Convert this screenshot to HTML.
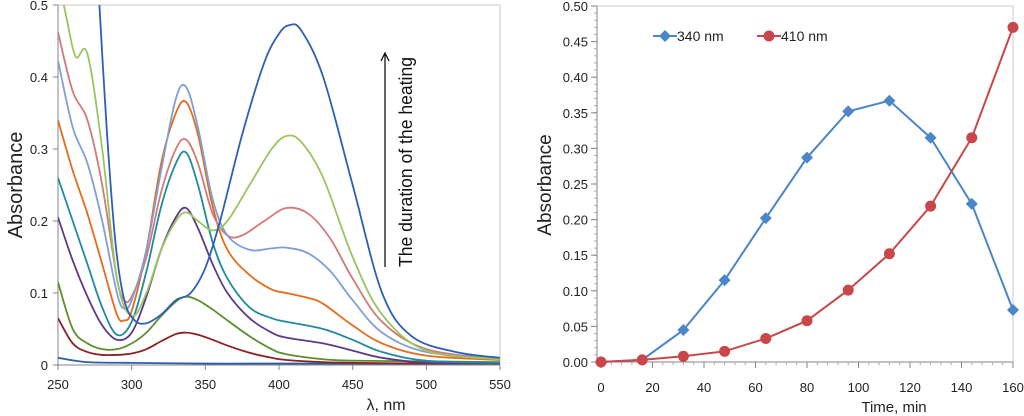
<!DOCTYPE html>
<html><head><meta charset="utf-8"><style>
body{margin:0;background:#fff;}
svg{display:block;font-family:"Liberation Sans",Arial,sans-serif;}
</style></head><body>
<svg id="c" width="1024" height="416" viewBox="0 0 1024 416">
<defs><clipPath id="lc"><rect x="58" y="5" width="442" height="360"/></clipPath></defs>
</svg>
<script>
// ---- Left chart data (spectra) ----
const specColors=["#2f5da8","#8b2323","#5b8f2e","#5b3a86","#1f8aa0","#e46c1a","#d27a78","#7f9fd8","#9bc45f","#2e5fb8"];
const specX=[
 [250,270,300,350,400,450,500,550],
 [250,260,270,280,290,300,310,320,330,337,345,355,365,380,395,405,430,450,500,550],
 [250,260,270,280,290,300,310,320,330,337,345,355,365,380,395,405,430,450,500,550],
 [250,260,270,280,290,300,310,320,330,337,345,355,365,380,395,405,430,450,470,500,550],
 [250,260,270,280,290,300,310,320,330,337,345,355,365,380,395,405,430,450,470,500,550],
 [250,260,270,280,290,295,300,310,320,330,337,345,355,365,380,395,405,420,430,450,470,500,550],
 [250,260,270,280,290,295,300,310,320,330,337,345,355,365,375,390,405,420,435,450,470,500,550],
 [250,260,270,280,290,295,300,310,320,330,337,345,355,365,380,395,405,420,435,450,470,500,550],
 [252,256,262,270,280,290,300,310,320,330,337,345,355,365,380,395,405,415,430,450,470,500,550],
 [277,283,289,295,302,310,320,330,340,350,360,375,390,400,407,415,430,450,470,490,520,550]
];
const specY=[
 [0.010,0.004,0.003,0.002,0.002,0.002,0.002,0.002],
 [0.065,0.030,0.018,0.014,0.014,0.016,0.022,0.033,0.043,0.045,0.042,0.035,0.027,0.017,0.010,0.007,0.004,0.003,0.002,0.002],
 [0.115,0.050,0.030,0.022,0.022,0.030,0.045,0.068,0.088,0.095,0.090,0.077,0.062,0.040,0.022,0.015,0.008,0.006,0.005,0.004],
 [0.205,0.145,0.095,0.055,0.035,0.045,0.095,0.160,0.205,0.218,0.190,0.140,0.100,0.065,0.045,0.038,0.030,0.020,0.010,0.003,0.002],
 [0.260,0.200,0.140,0.080,0.042,0.060,0.130,0.220,0.280,0.295,0.250,0.170,0.120,0.080,0.065,0.060,0.050,0.035,0.018,0.006,0.003],
 [0.340,0.270,0.210,0.140,0.070,0.062,0.075,0.160,0.280,0.350,0.365,0.320,0.220,0.160,0.125,0.105,0.100,0.093,0.085,0.055,0.030,0.013,0.007],
 [0.462,0.380,0.340,0.250,0.120,0.090,0.095,0.150,0.240,0.300,0.313,0.280,0.210,0.180,0.180,0.200,0.218,0.210,0.175,0.120,0.060,0.022,0.008],
 [0.423,0.330,0.280,0.200,0.100,0.078,0.090,0.160,0.270,0.370,0.386,0.330,0.230,0.180,0.160,0.162,0.163,0.155,0.130,0.090,0.045,0.018,0.008],
 [0.520,0.480,0.428,0.432,0.300,0.120,0.068,0.100,0.160,0.200,0.212,0.200,0.187,0.200,0.250,0.300,0.318,0.310,0.260,0.150,0.070,0.020,0.008],
 [0.540,0.330,0.170,0.090,0.062,0.058,0.070,0.090,0.100,0.135,0.200,0.320,0.420,0.460,0.472,0.465,0.400,0.250,0.100,0.040,0.018,0.010]
];
const leftXTicks=[250,300,350,400,450,500,550];
const leftYTicks=[0,0.1,0.2,0.3,0.4,0.5];
const leftYLabels=["0","0.1","0.2","0.3","0.4","0.5"];
// ---- Right chart data ----
const times=[0,16,32,48,64,80,96,112,128,144,160];
const abs340=[0,0.003,0.045,0.115,0.202,0.287,0.352,0.367,0.315,0.222,0.073];
const abs410=[0,0.003,0.008,0.015,0.033,0.058,0.101,0.152,0.219,0.315,0.470];
const rightXTicks=[0,20,40,60,80,100,120,140,160];
const rightYTicks=[0,0.05,0.1,0.15,0.2,0.25,0.3,0.35,0.4,0.45,0.5];

const NS="http://www.w3.org/2000/svg";
const svg=document.getElementById('c');
function el(tag,attrs,parent,text){const e=document.createElementNS(NS,tag);for(const k in attrs)e.setAttribute(k,attrs[k]);if(text!==undefined)e.textContent=text;(parent||svg).appendChild(e);return e;}

// Left axes
const lx=v=>58+(v-250)*(442/300);
const ly=v=>365-v*720;
const L=el('g',{});


const lb=el('rect',{x:58,y:5,width:442,height:360,fill:'none',stroke:'#c8c8c8','stroke-width':1},L);


el('line',{x1:58,y1:5,x2:58,y2:365,stroke:'#868686'},L);
el('line',{x1:58,y1:365,x2:500,y2:365,stroke:'#868686'},L);
leftYTicks.forEach((v,i)=>{
 el('line',{x1:53,y1:ly(v),x2:58,y2:ly(v),stroke:'#868686'},L);
 const t=el('text',{x:48,y:ly(v)+5,'text-anchor':'end','font-size':13,fill:'#222'},L,leftYLabels[i]);
 
 
});
leftXTicks.forEach(v=>{
 el('line',{x1:lx(v),y1:365,x2:lx(v),y2:370,stroke:'#868686'},L);
 const t=el('text',{x:lx(v),y:389,'text-anchor':'middle','font-size':13,fill:'#222'},L,String(v));
 
 
});
const lxt=el('text',{x:386,y:410,'text-anchor':'middle','font-size':16,fill:'#222'},L,'λ, nm');


const lyt=el('text',{x:0,y:0,transform:'translate(22,185) rotate(-90)','text-anchor':'middle','font-size':20,fill:'#222'},L,'Absorbance');



function smooth(pts){
 let d='M'+pts[0][0]+','+pts[0][1];
 for(let i=0;i<pts.length-1;i++){
  const p0=pts[i-1]||pts[i],p1=pts[i],p2=pts[i+1],p3=pts[i+2]||p2;
  const c1=[p1[0]+(p2[0]-p0[0])/6,p1[1]+(p2[1]-p0[1])/6];
  const c2=[p2[0]-(p3[0]-p1[0])/6,p2[1]-(p3[1]-p1[1])/6];
  d+=' C'+c1[0]+','+c1[1]+' '+c2[0]+','+c2[1]+' '+p2[0]+','+p2[1];
 }
 return d;
}
const G=el('g',{'clip-path':'url(#lc)'},L);
specX.forEach((xs,i)=>{
 const pts=xs.map((x,j)=>[lx(x),ly(specY[i][j])]);
 const p=el('path',{d:smooth(pts),fill:'none',stroke:specColors[i],'stroke-width':1.8},G);
 
 
});
// arrow annotation
const ar=el('g',{},L);


el('line',{x1:385,y1:267,x2:385,y2:55,stroke:'#000','stroke-width':1.2},ar);
el('path',{d:'M381,61 L385,53 L389,61',fill:'none',stroke:'#000','stroke-width':1.2},ar);
const at=el('text',{x:0,y:0,transform:'translate(412,267) rotate(-90)','font-size':18.5,fill:'#111',textLength:210,lengthAdjust:'spacingAndGlyphs'},L,'The duration of the heating');



// Right chart
const rx=v=>601+v*(412/160);
const ry=v=>362-v*712;
const R=el('g',{});


const rb=el('rect',{x:597,y:6,width:416,height:356,fill:'none',stroke:'#c8c8c8'},R);


el('line',{x1:597,y1:6,x2:597,y2:362,stroke:'#868686'},R);
el('line',{x1:597,y1:362,x2:1013,y2:362,stroke:'#868686'},R);
for(let v=0;v<=0.5001;v+=0.01){const y=ry(v);el('line',{x1:594,y1:y,x2:597,y2:y,stroke:'#aaa'},R);}
for(let v=0;v<=160;v+=4){el('line',{x1:rx(v),y1:362,x2:rx(v),y2:365,stroke:'#aaa'},R);}
rightYTicks.forEach(v=>{
 el('line',{x1:591,y1:ry(v),x2:597,y2:ry(v),stroke:'#868686'},R);
 const t=el('text',{x:588,y:ry(v)+5,'text-anchor':'end','font-size':13,fill:'#222'},R,v.toFixed(2));
 
 
});
rightXTicks.forEach(v=>{
 el('line',{x1:rx(v),y1:362,x2:rx(v),y2:368,stroke:'#868686'},R);
 const t=el('text',{x:rx(v),y:392,'text-anchor':'middle','font-size':13,fill:'#222'},R,String(v));
 
 
});
const rxt=el('text',{x:894,y:412,'text-anchor':'middle','font-size':15,fill:'#222'},R,'Time, min');


const ryt=el('text',{x:0,y:0,transform:'translate(551,185) rotate(-90)','text-anchor':'middle','font-size':19,fill:'#222'},R,'Absorbance');



const diamond=(x,y,c,g)=>el('path',{d:`M${x},${y-6} L${x+6},${y} L${x},${y+6} L${x-6},${y} Z`,fill:c},g);
const s1=el('g',{},R);


el('polyline',{points:times.map((t,i)=>rx(t)+','+ry(abs340[i])).join(' '),fill:'none',stroke:'#4a86c8','stroke-width':2},s1);
times.forEach((t,i)=>{const m=diamond(rx(t),ry(abs340[i]),'#4a86c8',s1);
 
 });
const s2=el('g',{},R);


el('polyline',{points:times.map((t,i)=>rx(t)+','+ry(abs410[i])).join(' '),fill:'none',stroke:'#c9474a','stroke-width':2},s2);
times.forEach((t,i)=>{const m=el('circle',{cx:rx(t),cy:ry(abs410[i]),r:5.5,fill:'#c9474a'},s2);
 
 });
// legend
const lg=el('g',{},R);


const le1=el('g',{},lg);


el('line',{x1:653,y1:36,x2:677,y2:36,stroke:'#4a86c8','stroke-width':2},le1);
diamond(665,36,'#4a86c8',le1);
el('text',{x:677,y:41,'font-size':14,fill:'#222'},le1,'340 nm');
const le2=el('g',{},lg);


el('line',{x1:757,y1:36,x2:781,y2:36,stroke:'#c9474a','stroke-width':2},le2);
el('circle',{cx:769,cy:36,r:5.5,fill:'#c9474a'},le2);
el('text',{x:781,y:41,'font-size':14,fill:'#222'},le2,'410 nm');
</script>
</body></html>
